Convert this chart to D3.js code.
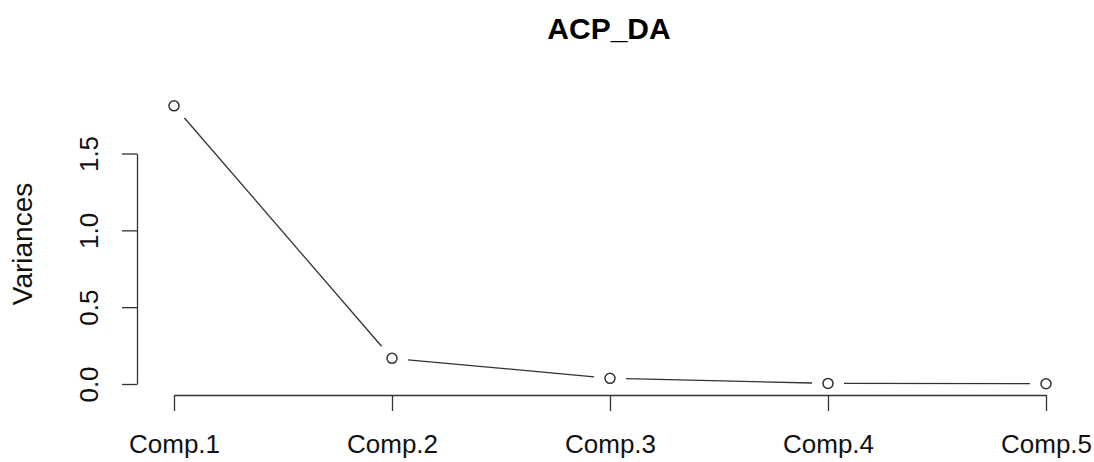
<!DOCTYPE html>
<html>
<head>
<meta charset="utf-8">
<script src="https://cdn.jsdelivr.net/npm/d3@7"></script>
<style>
  html, body { margin: 0; padding: 0; background: #fff; }
  svg { display: block; font-family: "Liberation Sans", Arial, sans-serif; }
</style>
</head>
<body>
<svg id="chart" width="1094" height="462"></svg>
<script>
// Scree plot: variance of each principal component
const components = ["Comp.1", "Comp.2", "Comp.3", "Comp.4", "Comp.5"];
const variances = [1.81, 0.167, 0.037, 0.004, 0.002];
const yTicks = [0, 0.5, 1.0, 1.5];
const chartTitle = "ACP_DA";
const yLabel = "Variances";

const svg = d3.select("#chart");
const ink = "#333";
const font = "Liberation Sans, Arial, sans-serif";

const x = d3.scalePoint().domain(components).range([174, 1046]);
const y = d3.scaleLinear().domain([0, 1.5]).range([384, 153.5]);

// Title
svg.append("text")
  .attr("x", 609).attr("y", 39)
  .attr("text-anchor", "middle")
  .attr("font-size", 30).attr("font-weight", "bold")
  .attr("fill", "#000")
  .text(chartTitle);

// Y axis with rotated tick labels
const yAxis = svg.append("g")
  .attr("transform", "translate(137,0)")
  .call(d3.axisLeft(y).tickValues(yTicks).tickFormat(d3.format(".1f")).tickSize(15).tickSizeOuter(0));
yAxis.select(".domain").attr("stroke", ink).attr("stroke-width", 1.3);
yAxis.selectAll(".tick line").attr("stroke", ink).attr("stroke-width", 1.3);
yAxis.selectAll(".tick text")
  .attr("transform", "rotate(-90)")
  .attr("x", 0).attr("y", -39).attr("dy", 0)
  .attr("text-anchor", "middle")
  .attr("font-size", 26).attr("font-family", font)
  .attr("fill", "#111");

// X axis
const xAxis = svg.append("g")
  .attr("transform", "translate(0,395)")
  .call(d3.axisBottom(x).tickSize(16).tickSizeOuter(0));
xAxis.select(".domain").attr("stroke", ink).attr("stroke-width", 1.3);
xAxis.selectAll(".tick line").attr("stroke", ink).attr("stroke-width", 1.3);
xAxis.selectAll(".tick text")
  .attr("y", 58).attr("dy", 0)
  .attr("font-size", 26).attr("font-family", font)
  .attr("fill", "#111");

// Y axis title
svg.append("text")
  .attr("transform", "translate(32,244) rotate(-90)")
  .attr("text-anchor", "middle")
  .attr("font-size", 28)
  .attr("fill", "#111")
  .text(yLabel);

// Line segments between points, with a gap around each marker
const pts = components.map((c, i) => ({ x: x(c), y: y(variances[i]) }));
const gap = 16;
const segs = d3.pairs(pts).map(([a, b]) => {
  const dx = b.x - a.x, dy = b.y - a.y;
  const len = Math.hypot(dx, dy);
  const ux = dx / len, uy = dy / len;
  return { x1: a.x + ux * gap, y1: a.y + uy * gap, x2: b.x - ux * gap, y2: b.y - uy * gap };
});
svg.append("g").selectAll("line").data(segs).join("line")
  .attr("x1", d => d.x1).attr("y1", d => d.y1)
  .attr("x2", d => d.x2).attr("y2", d => d.y2)
  .attr("stroke", ink).attr("stroke-width", 1.3);

// Open circle markers
svg.append("g").selectAll("circle").data(pts).join("circle")
  .attr("cx", d => d.x).attr("cy", d => d.y).attr("r", 5)
  .attr("fill", "none").attr("stroke", ink).attr("stroke-width", 1.5);
</script>
</body>
</html>
